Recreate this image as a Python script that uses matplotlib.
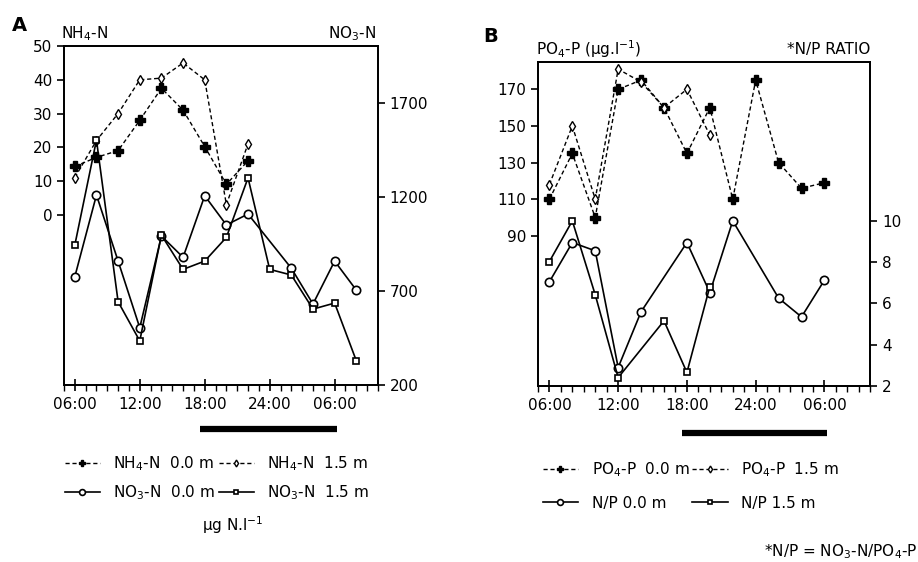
import matplotlib
matplotlib.use('Agg')
import matplotlib.pyplot as plt
import matplotlib.transforms as mtransforms

plt.rcParams['font.family'] = ['DejaVu Sans']
plt.rcParams['font.size'] = 11
plt.rcParams['mathtext.fontset'] = 'dejavusans'
plt.rcParams['axes.linewidth'] = 1.3

# ---- panel A data (hours after midnight of day 1) ----
nh4_00_h = [6, 8, 10, 12, 14, 16, 18, 20, 22]
nh4_00 = [14.3, 17, 19, 28, 37.5, 31, 20.2, 9, 16]
nh4_15_h = [6, 8, 10, 12, 14, 16, 18, 20, 22]
nh4_15 = [11, 22, 30, 40, 40.5, 45, 40, 3, 21]
no3_00_h = [6, 8, 10, 12, 14, 16, 18, 20, 22, 26, 28, 30, 32]
no3_00 = [775, 1209, 858, 504, 991, 878, 1205, 1050, 1108, 820, 630, 858, 704]
no3_15_h = [6, 8, 10, 12, 14, 16, 18, 20, 22, 24, 26, 28, 30, 32]
no3_15 = [943, 1501, 642, 434, 996, 814, 858, 984, 1300, 814, 784, 603, 635, 329]

# ---- panel B data ----
po4_00_h = [6, 8, 10, 12, 14, 16, 18, 20, 22, 24, 26, 28, 30]
po4_00 = [110, 135, 100, 170, 175, 160, 135, 160, 110, 175, 130, 116, 119]
po4_15_h = [6, 8, 10, 12, 14, 16, 18, 20]
po4_15 = [118, 150, 110, 181, 174, 160, 170, 145]
np_00_h = [6, 8, 10, 12, 14, 18, 20, 22, 26, 28, 30]
np_00 = [7.05, 8.95, 8.55, 2.9, 5.6, 8.95, 6.53, 10, 6.26, 5.35, 7.13]
np_15_h = [6, 8, 10, 12, 16, 18, 20]
np_15 = [8.03, 10, 6.42, 2.41, 5.16, 2.66, 6.82]

time_ticks = [6, 12, 18, 24, 30]
time_labels = ['06:00', '12:00', '18:00', '24:00', '06:00']
night = (17.6, 30.2)

DASH = (0, (3, 2))
plus_kw = dict(color='k', lw=1.0, ls=DASH, marker='P', ms=6.5, mfc='k', mec='k')
dia_kw = dict(color='k', lw=1.0, ls=DASH, marker='d', ms=5, mfc='white', mec='k', mew=1.0)
circ_kw = dict(color='k', lw=1.2, ls='-', marker='o', ms=6, mfc='white', mec='k', mew=1.2)
sq_kw = dict(color='k', lw=1.2, ls='-', marker='s', ms=5, mfc='white', mec='k', mew=1.2)


def style_time_axis(ax):
    ax.set_xlim(5, 34)
    ax.set_xticks(time_ticks)
    ax.set_xticklabels(time_labels)
    ax.set_xticks(range(5, 35), minor=True)
    ax.tick_params(axis='x', which='major', direction='inout', length=9, width=1.2, pad=4)
    ax.tick_params(axis='x', which='minor', direction='out', length=4, width=1.0)


def night_bar(ax, yax):
    tr = mtransforms.blended_transform_factory(ax.transData, ax.transAxes)
    ax.plot(night, [yax, yax], transform=tr, color='k', lw=4.5,
            solid_capstyle='butt', clip_on=False)


fig = plt.figure(figsize=(9.18, 5.62), dpi=100)

# ---------------- panel A ----------------
axA = fig.add_axes([0.0697, 0.315, 0.342, 0.603])
axA2 = axA.twinx()
hA1, = axA.plot(nh4_00_h, nh4_00, **plus_kw)
hA2, = axA.plot(nh4_15_h, nh4_15, **dia_kw)
hA3, = axA2.plot(no3_00_h, no3_00, **circ_kw)
hA4, = axA2.plot(no3_15_h, no3_15, **sq_kw)
axA.set_ylim(-50.5, 50)
axA.set_yticks([0, 10, 20, 30, 40, 50])
axA2.set_ylim(200, 2000)
axA2.set_yticks([200, 700, 1200, 1700])
axA.tick_params(axis='y', direction='out', length=5, width=1.2)
axA2.tick_params(axis='y', direction='out', length=5, width=1.2)
style_time_axis(axA)
night_bar(axA, -0.13)

fig.text(0.013, 0.955, 'A', fontsize=14, fontweight='bold', va='center')
fig.text(0.066, 0.940, r'NH$_4$-N', va='center', ha='left')
fig.text(0.410, 0.940, r'NO$_3$-N', va='center', ha='right')

legA = axA.legend([hA1, hA3, hA2, hA4],
                  [r'NH$_4$-N  0.0 m', r'NO$_3$-N  0.0 m',
                   r'NH$_4$-N  1.5 m', r'NO$_3$-N  1.5 m'],
                  ncol=2, loc='upper left', bbox_to_anchor=(0.062, 0.205),
                  bbox_transform=fig.transFigure, frameon=False,
                  handlelength=2.3, handletextpad=0.9, columnspacing=0.2,
                  labelspacing=0.65, borderpad=0, markerscale=0.7)
fig.text(0.254, 0.066, r'µg N.l$^{-1}$', ha='center', va='center')

# ---------------- panel B ----------------
axB = fig.add_axes([0.586, 0.313, 0.362, 0.577])
axB2 = axB.twinx()
hB1, = axB.plot(po4_00_h, po4_00, **plus_kw)
hB2, = axB.plot(po4_15_h, po4_15, **dia_kw)
hB3, = axB2.plot(np_00_h, np_00, **circ_kw)
hB4, = axB2.plot(np_15_h, np_15, **sq_kw)
axB.set_ylim(8, 185)
axB.set_yticks([90, 110, 130, 150, 170])
axB2.set_ylim(2, 17.7)
axB2.set_yticks([2, 4, 6, 8, 10])
axB.tick_params(axis='y', direction='out', length=5, width=1.2)
axB2.tick_params(axis='y', direction='out', length=5, width=1.2)
style_time_axis(axB)
night_bar(axB, -0.145)

fig.text(0.526, 0.935, 'B', fontsize=14, fontweight='bold', va='center')
fig.text(0.584, 0.912, r'PO$_4$-P (µg.l$^{-1}$)', va='center', ha='left')
fig.text(0.948, 0.912, '*N/P RATIO', va='center', ha='right')

legB = axB.legend([hB1, hB3, hB2, hB4],
                  [r'PO$_4$-P  0.0 m', 'N/P 0.0 m',
                   r'PO$_4$-P  1.5 m', 'N/P 1.5 m'],
                  ncol=2, loc='upper left', bbox_to_anchor=(0.583, 0.195),
                  bbox_transform=fig.transFigure, frameon=False,
                  handlelength=2.3, handletextpad=0.9, columnspacing=0.2,
                  labelspacing=1.1, borderpad=0, markerscale=0.7)
fig.text(0.999, 0.018, r'*N/P = NO$_3$-N/PO$_4$-P', ha='right', va='center')

fig.savefig('out.png', dpi=100)
